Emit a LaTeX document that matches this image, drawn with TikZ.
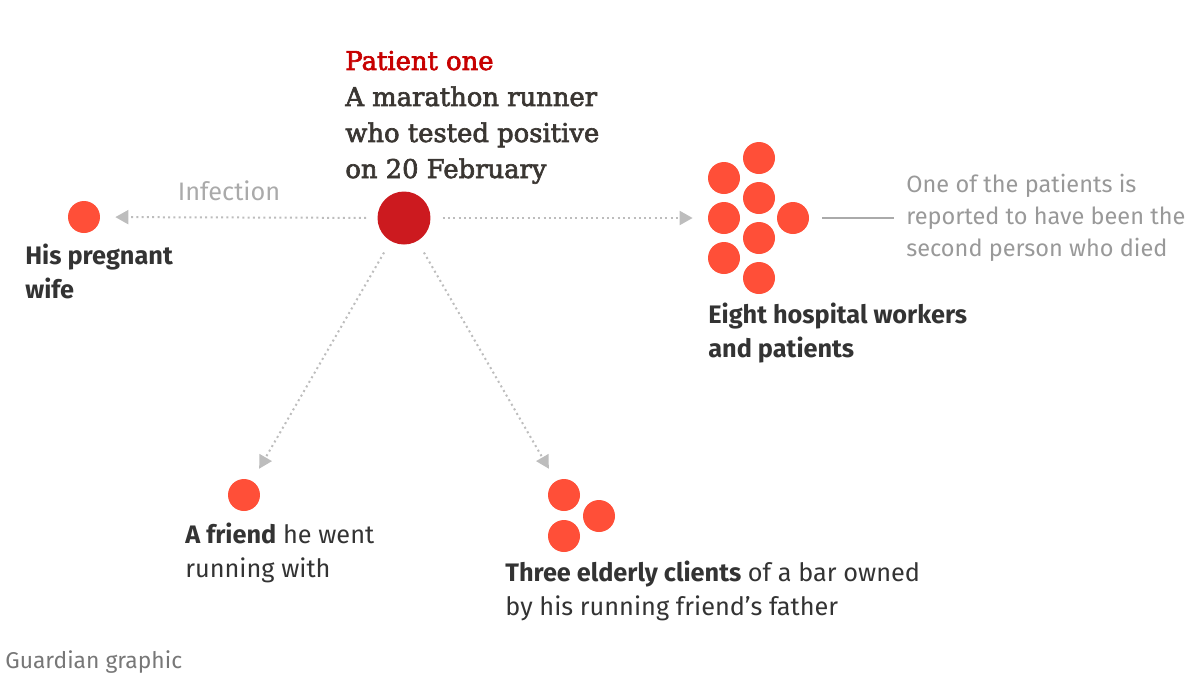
\documentclass[tikz,border=0pt]{standalone}
\usepackage{fontspec}
\setmainfont{DejaVu Serif}
\setsansfont{Fira Sans}
\usetikzlibrary{arrows.meta}

\definecolor{firstRed}{HTML}{CC1A1F}
\definecolor{caseRed}{HTML}{FF4F38}
\definecolor{headRed}{HTML}{C70000}
\definecolor{inkDark}{HTML}{333333}
\definecolor{headInk}{HTML}{3A3632}
\definecolor{arrowGray}{HTML}{BDBDBD}
\definecolor{softGray}{HTML}{AAAAAA}
\definecolor{noteGray}{HTML}{999999}
\definecolor{creditGray}{HTML}{777777}

\begin{document}
\begin{tikzpicture}[x=0.02cm, y=-0.02cm,
    case/.style={circle, fill=caseRed, inner sep=0pt, minimum size=0.64cm},
    spread/.style={draw=arrowGray, line width=0.04cm, dash pattern=on 0.04cm off 0.066cm,
        -{Triangle[length=0.26cm, width=0.28cm, fill=arrowGray]}},
    casetext/.style={anchor=base west, inner sep=0pt, align=left, text=inkDark,
        font=\sffamily\fontsize{14.4}{19}\selectfont}]
    \useasboundingbox (0,0) rectangle (1204,684);

    % Patient one (base = last line)
    \node[anchor=base west, inner sep=0pt, align=left, text=headInk,
        font=\fontsize{14.7}{20.5}\selectfont\addfontfeature{FakeBold=2.5}] (head) at (345,178)
        {\textcolor{headRed}{Patient one}\\ A marathon runner\\ who tested positive\\ on 20 February};
    \node[circle, fill=firstRed, inner sep=0pt, minimum size=1.06cm] (first) at (404,218) {};

    % His pregnant wife
    \node[case] (wife) at (84,217) {};
    \node[casetext] (wifetext) at (25,298) {\bfseries His pregnant\\ \bfseries wife};
    \draw[spread, shorten <=0.22cm, shorten >=0.3cm] (first) -- (wife);
    \node[anchor=base, inner sep=0pt, text=softGray, font=\sffamily\fontsize{14.4}{19}\selectfont]
        (infection) at (229,200) {Infection};

    % Eight hospital workers and patients
    \foreach \x/\y [count=\i] in {724/178, 724/218, 724/258, 759/158, 759/198, 759/238, 759/278, 793/218}
        \node[case] (h\i) at (\x,\y) {};
    \draw[spread, shorten <=0.24cm, shorten >=0.3cm] (first) -- (h2);
    \node[casetext] (hospitaltext) at (708,357) {\bfseries Eight hospital workers\\ \bfseries and patients};

    % The patient who died
    \node[anchor=base west, inner sep=0pt, align=left, text=noteGray,
        font=\sffamily\fontsize{13.4}{18.2}\selectfont] (note) at (906,256)
        {One of the patients is\\ reported to have been the\\ second person who died};
    \draw[softGray, line width=0.04cm, shorten <=0.26cm, shorten >=0.24cm] (h8) -- (h8 -| note.west);

    % A friend
    \node[case] (friend) at (244,495) {};
    \node[casetext] (friendtext) at (185,577) {\textbf{A friend} he went\\ running with};
    \draw[spread, shorten <=0.26cm, shorten >=0.28cm] (first) -- (friend);

    % Three elderly clients
    \node[case] (c1) at (564,495) {};
    \node[case] (c2) at (599,516) {};
    \node[case] (c3) at (564,536) {};
    \node[casetext] (clienttext) at (505,615)
        {\textbf{Three elderly clients} of a bar owned\\ by his running friend’s father};
    \draw[spread, shorten <=0.26cm, shorten >=0.28cm] (first) -- (c1);

    % Source
    \node[anchor=base west, inner sep=0pt, text=creditGray, font=\sffamily\fontsize{13}{16}\selectfont]
        (credit) at (5,668) {Guardian graphic};
\end{tikzpicture}
\end{document}
